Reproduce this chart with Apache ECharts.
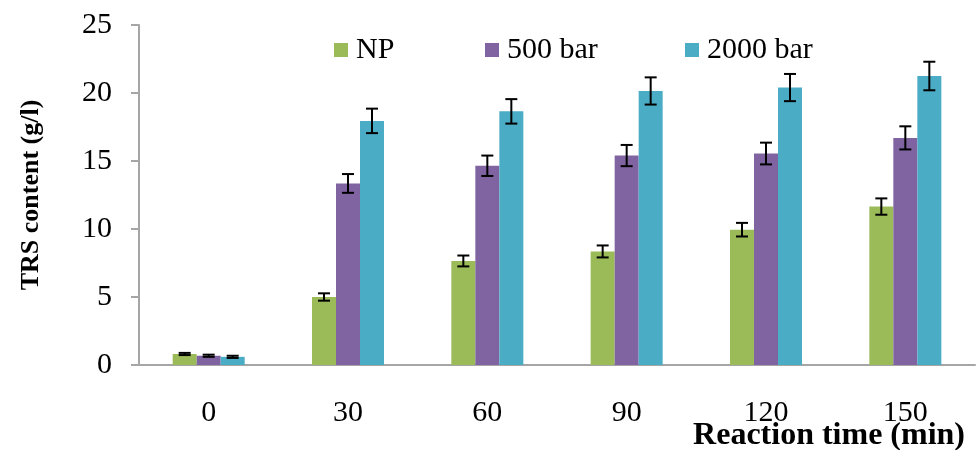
<!DOCTYPE html>
<html>
<head>
<meta charset="utf-8">
<script src="https://cdn.jsdelivr.net/npm/echarts@6/dist/echarts.min.js"></script>
<style>
  html, body { margin: 0; padding: 0; background: #fff; }
  #chart { width: 977px; height: 450px; }
</style>
</head>
<body>
<div id="chart"></div>
<script>
// Reaction time categories (min)
const categories = ['0', '30', '60', '90', '120', '150'];

// Mean TRS content (g/l) per condition
const npValues    = [0.81, 5.0, 7.65, 8.35, 9.95, 11.65];
const bar500      = [0.68, 13.35, 14.65, 15.4, 15.55, 16.7];
const bar2000     = [0.6, 17.95, 18.65, 20.15, 20.4, 21.25];

// Standard deviations
const npErr   = [0.08, 0.27, 0.4, 0.44, 0.5, 0.6];
const err500  = [0.08, 0.69, 0.75, 0.78, 0.8, 0.85];
const err2000 = [0.08, 0.9, 0.9, 1.0, 1.0, 1.05];

const seriesNames = ['NP', '500 bar', '2000 bar'];
const colors = ['#9bbb59', '#8064a2', '#4bacc6'];

const BAR_W = 24;
const FONT = '"Liberation Serif", "Times New Roman", serif';
const FS = 30;

function errorSeries(values, errs, offset) {
  return {
    type: 'custom',
    silent: true,
    z: 10,
    data: values.map((v, i) => [i, v - errs[i], v + errs[i]]),
    renderItem: function (params, api) {
      const lo = api.coord([api.value(0), api.value(1)]);
      const hi = api.coord([api.value(0), api.value(2)]);
      const x = lo[0] + offset;
      const cap = 6;
      const style = { stroke: '#000', lineWidth: 2 };
      return {
        type: 'group',
        children: [
          { type: 'line', shape: { x1: x, y1: hi[1], x2: x, y2: lo[1] }, style: style },
          { type: 'line', shape: { x1: x - cap, y1: hi[1], x2: x + cap, y2: hi[1] }, style: style },
          { type: 'line', shape: { x1: x - cap, y1: lo[1], x2: x + cap, y2: lo[1] }, style: style }
        ]
      };
    }
  };
}

// One legend entry per condition, each placed on its own
function legendItem(name, left) {
  return {
    data: [name],
    left: left,
    top: 30,
    itemWidth: 14,
    itemHeight: 14,
    icon: 'rect',
    textStyle: { fontFamily: FONT, fontSize: FS, color: '#000', padding: [0, 0, 0, 3] }
  };
}

const chart = echarts.init(document.getElementById('chart'));
chart.setOption({
  animation: false,
  backgroundColor: '#fff',
  textStyle: { fontFamily: FONT },
  grid: { left: 139, right: 2, top: 25, bottom: 85 },
  legend: [
    legendItem(seriesNames[0], 329),
    legendItem(seriesNames[1], 480),
    legendItem(seriesNames[2], 680)
  ],
  xAxis: {
    type: 'category',
    data: categories,
    axisLine: { lineStyle: { color: '#a6a6a6', width: 2 } },
    axisTick: { show: false },
    axisLabel: { fontFamily: FONT, fontSize: FS, color: '#000', margin: 33 }
  },
  yAxis: {
    type: 'value',
    min: 0,
    max: 25,
    interval: 5,
    name: 'TRS content (g/l)',
    nameLocation: 'middle',
    nameGap: 95,
    nameTextStyle: { fontFamily: FONT, fontSize: 26, fontWeight: 'bold', color: '#000' },
    splitLine: { show: false },
    axisLine: { show: true, lineStyle: { color: '#a6a6a6', width: 2 } },
    axisTick: { show: true, inside: false, length: 8, lineStyle: { color: '#a6a6a6', width: 2 } },
    axisLabel: { fontFamily: FONT, fontSize: FS, color: '#000', margin: 27 }
  },
  graphic: [{
    type: 'text',
    right: 12,
    top: 420,
    style: {
      text: 'Reaction time (min)',
      font: 'bold 32px ' + FONT,
      fill: '#000'
    }
  }],
  series: [
    { name: seriesNames[0], type: 'bar', data: npValues, barWidth: BAR_W, barGap: '0%', itemStyle: { color: colors[0] } },
    { name: seriesNames[1], type: 'bar', data: bar500, barWidth: BAR_W, barGap: '0%', itemStyle: { color: colors[1] } },
    { name: seriesNames[2], type: 'bar', data: bar2000, barWidth: BAR_W, barGap: '0%', itemStyle: { color: colors[2] } },
    errorSeries(npValues, npErr, -BAR_W),
    errorSeries(bar500, err500, 0),
    errorSeries(bar2000, err2000, BAR_W)
  ]
});
</script>
</body>
</html>
